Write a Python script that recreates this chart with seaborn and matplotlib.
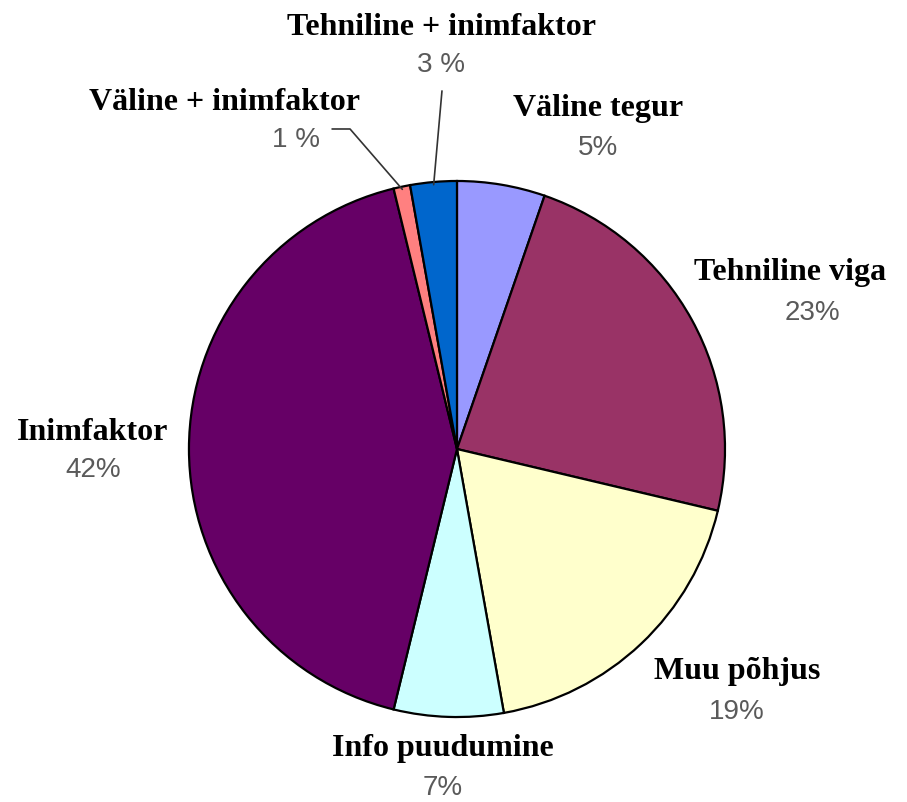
import numpy as np
import seaborn as sns
import matplotlib.pyplot as plt

# andmed (päripäeva, alates kella 12-st)
categories = ["Väline tegur", "Tehniline viga", "Muu põhjus", "Info puudumine",
              "Inimfaktor", "Väline + inimfaktor", "Tehniline + inimfaktor"]
shares = [5.3, 23.4, 18.5, 6.6, 42.4, 1.0, 2.8]
pct_labels = ["5%", "23%", "19%", "7%", "42%", "1 %", "3 %"]
colors = ["#9999FF", "#993366", "#FFFFCC", "#CCFFFF", "#660066", "#FF8080", "#0066CC"]

# sildi asukohad (nimi, protsent) andmeühikutes, raadius = 1
name_pos = [(0.526, 1.276), (1.243, 0.664), (1.045, -0.828), (-0.052, -1.112),
            (-1.358, 0.067), (-0.869, 1.295), (-0.056, 1.575)]
pct_pos = [(0.526, 1.127), (1.328, 0.511), (1.045, -0.978), (-0.052, -1.261),
           (-1.358, -0.075), (-0.601, 1.157), (-0.060, 1.437)]

sns.set_theme(style="white")

fig = plt.figure(figsize=(9.07, 8.03), dpi=100)
ax = fig.add_axes([0, 0, 1, 1])

wedges, _ = ax.pie(shares, colors=colors, startangle=90, counterclock=False,
                   wedgeprops=dict(edgecolor="black", linewidth=1.6))

for name, (nx, ny), pct, (px, py) in zip(categories, name_pos, pct_labels, pct_pos):
    ax.text(nx, ny, name, ha="center", va="center", fontsize=23,
            fontweight="bold", family="Liberation Serif", color="black")
    ax.text(px, py, pct, ha="center", va="center", fontsize=20,
            family="Liberation Sans", color="#5a5a5a")

# juhtjooned kahe väikese sektori jaoks
def edge_point(w, r=0.99):
    ang = np.deg2rad((w.theta1 + w.theta2) / 2)
    return r * np.cos(ang), r * np.sin(ang)

ex, ey = edge_point(wedges[5])
ax.plot([-0.466, -0.399, ex], [1.194, 1.194, ey], color="#333333", lw=1.2)
ex, ey = edge_point(wedges[6])
ax.plot([-0.056, ex], [1.336, ey], color="#333333", lw=1.2)

ax.set_xlim(-1.705, 1.679)
ax.set_ylim(-1.317, 1.679)
ax.set_aspect("equal")
ax.axis("off")

fig.savefig("out.png", dpi=100, facecolor="white")
